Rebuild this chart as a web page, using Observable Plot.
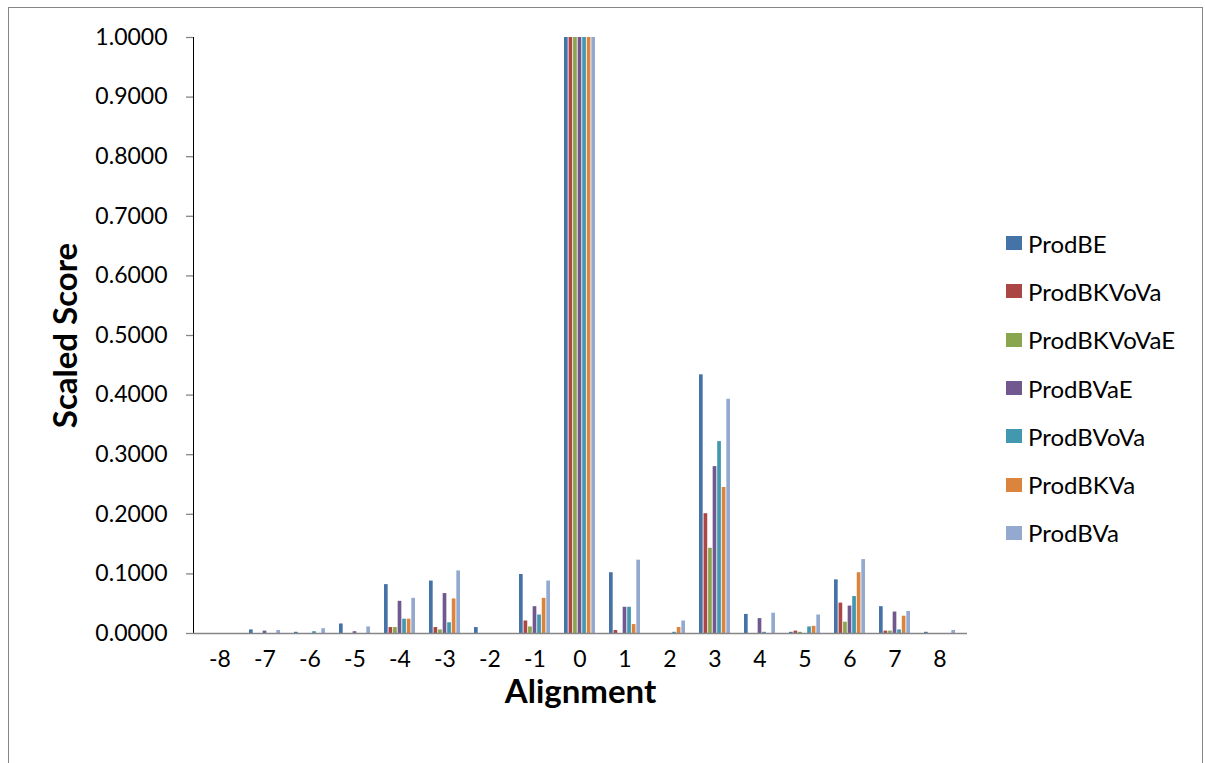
<!DOCTYPE html>
<html>
<head>
<meta charset="utf-8">
<script src="https://cdn.jsdelivr.net/npm/d3@7"></script>
<script src="https://cdn.jsdelivr.net/npm/@observablehq/plot@0.6"></script>
<style>
  html, body { margin: 0; padding: 0; background: #fff; overflow: hidden; }
  #chart { position: relative; width: 1205px; height: 763px; font-family: Lato, "Open Sans", sans-serif; }
  #border { position: absolute; left: 8px; top: 7px; width: 1195px; height: 800px; border: 1px solid #868686; box-sizing: border-box; pointer-events: none; }
  #chart svg { position: absolute; left: 0; top: 0; }
  #chart svg g[aria-label="y-axis label"] text,
  #chart svg g[aria-label="x-axis label"] text { font-size: 33px; font-weight: bold; fill: #000; }
  #legend { position: absolute; left: 1006px; top: 219px; font-size: 24px; color: #000; }
  #legend .item { display: flex; align-items: center; height: 48.3px; white-space: nowrap; }
  #legend .sw { width: 16px; height: 14px; margin-right: 6px; flex: none; }
</style>
</head>
<body>
<div id="chart"><div id="border"></div></div>
<script>
// Alignment offsets along the x axis
const alignments = [-8, -7, -6, -5, -4, -3, -2, -1, 0, 1, 2, 3, 4, 5, 6, 7, 8];

// Series names and their scaled scores per alignment
const series = ["ProdBE", "ProdBKVoVa", "ProdBKVoVaE", "ProdBVaE", "ProdBVoVa", "ProdBKVa", "ProdBVa"];
const prodBE      = [0, 0.006, 0.002, 0.016, 0.082, 0.088, 0.010, 0.099, 1, 0.102, 0,     0.434, 0.032, 0.002, 0.090, 0.045, 0.002];
const prodBKVoVa  = [0, 0,     0,     0,     0.010, 0.010, 0,     0.021, 1, 0.005, 0,     0.201, 0,     0.004, 0.051, 0.004, 0];
const prodBKVoVaE = [0, 0,     0,     0,     0.010, 0.006, 0,     0.011, 1, 0,     0,     0.143, 0,     0.002, 0.019, 0.004, 0];
const prodBVaE    = [0, 0.004, 0,     0.003, 0.054, 0.067, 0,     0.045, 1, 0.044, 0,     0.280, 0.025, 0,     0.046, 0.036, 0];
const prodBVoVa   = [0, 0,     0.003, 0,     0.024, 0.018, 0,     0.031, 1, 0.044, 0.002, 0.322, 0.002, 0.011, 0.062, 0.006, 0];
const prodBKVa    = [0, 0,     0,     0,     0.024, 0.058, 0,     0.059, 1, 0.015, 0.010, 0.245, 0,     0.012, 0.102, 0.029, 0];
const prodBVa     = [0, 0.005, 0.008, 0.011, 0.059, 0.105, 0,     0.088, 1, 0.123, 0.021, 0.393, 0.034, 0.031, 0.124, 0.037, 0.005];

const colors = ["#4572A7", "#AA4643", "#89A54E", "#71588F", "#4198AF", "#DB843D", "#93A9CF"];
const yTicks = [0, 0.1, 0.2, 0.3, 0.4, 0.5, 0.6, 0.7, 0.8, 0.9, 1.0];

const valuesBySeries = [prodBE, prodBKVoVa, prodBKVoVaE, prodBVaE, prodBVoVa, prodBKVa, prodBVa];

// Layout
const width = 1205, height = 763;
const marginLeft = 193, marginRight = 238, marginTop = 37, marginBottom = 130;
const padInner = 0.3, padOuter = 0.15;
// Each alignment band is split evenly between the series
const step = (width - marginLeft - marginRight) / (alignments.length - padInner + 2 * padOuter);
const barWidth = step * (1 - padInner) / series.length;

const seriesBars = series.map((name, s) =>
  Plot.barY(alignments.map((a, i) => ({alignment: a, series: name, value: valuesBySeries[s][i]})), {
    x: "alignment", y: "value", fill: "series",
    insetLeft: s * barWidth, insetRight: (series.length - 1 - s) * barWidth
  })
);

const chart = Plot.plot({
  width, height, marginLeft, marginRight, marginTop, marginBottom,
  style: {fontFamily: "Lato, 'Open Sans', sans-serif", fontSize: "23px", color: "#000", background: "transparent"},
  x: {domain: alignments, paddingInner: padInner, paddingOuter: padOuter, label: "Alignment", labelAnchor: "center",
      labelOffset: 69, tickSize: 0, tickPadding: 17, labelArrow: "none"},
  y: {domain: [0, 1], ticks: yTicks, tickFormat: d3.format(".4f"), tickSize: 7, tickPadding: 19, line: true,
      label: "Scaled Score", labelAnchor: "center", labelOffset: 140, labelArrow: "none"},
  color: {domain: series, range: colors},
  marks: [
    ...seriesBars,
    Plot.ruleY([0], {stroke: "#868686", strokeWidth: 1.5})
  ]
});
chart.querySelectorAll('g[aria-label="y-axis tick"], g[aria-label="y-axis line"]').forEach(g => {
  g.setAttribute("stroke", "#868686");
  g.setAttribute("stroke-width", "1.3");
});
document.getElementById("chart").appendChild(chart);

// Legend on the right
const legend = d3.select("#chart").append("div").attr("id", "legend");
const item = legend.selectAll(".item").data(series).join("div").attr("class", "item");
item.append("div").attr("class", "sw").style("background", (d, i) => colors[i]);
item.append("span").text(d => d);
</script>
</body>
</html>
